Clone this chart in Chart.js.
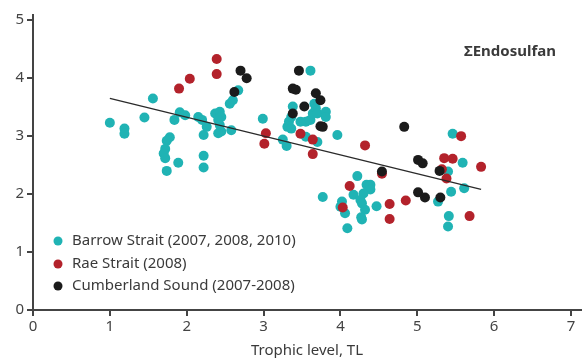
<!DOCTYPE html>
<html>
<head>
<meta charset="utf-8">
<script src="https://cdn.jsdelivr.net/npm/chart.js@4/dist/chart.umd.min.js"></script>
<style>
html,body{margin:0;padding:0;background:#fff;}
#wrap{width:586px;height:358px;position:relative;}
</style>
</head>
<body>
<div id="wrap"><canvas id="c" width="586" height="358"></canvas></div>
<script>
const chartTitle = "ΣEndosulfan";
const xAxisTitle = "Trophic level, TL";
const seriesNames = ["Barrow Strait (2007, 2008, 2010)", "Rae Strait (2008)", "Cumberland Sound (2007-2008)"];

const barrowTL = [1.00,1.19,1.19,1.45,1.56,1.84,1.91,1.98,1.78,1.74,1.72,1.70,1.72,1.89,1.74,2.15,2.20,2.26,2.22,2.22,2.22,2.37,2.43,2.45,2.41,2.43,2.45,2.41,2.58,2.56,2.60,2.67,2.99,3.25,3.30,3.31,3.33,3.36,3.36,3.38,3.48,3.55,3.61,3.64,3.66,3.68,3.70,3.81,3.81,3.61,3.55,3.70,3.96,4.22,3.77,4.34,4.39,4.39,4.17,4.30,4.26,4.28,4.32,4.47,4.28,4.27,4.02,4.00,4.06,4.09,5.40,5.46,5.59,5.44,5.61,5.27,5.41,5.40];
const barrowConc = [3.23,3.13,3.04,3.32,3.65,3.28,3.41,3.36,2.98,2.92,2.78,2.70,2.62,2.54,2.40,3.33,3.28,3.16,3.02,2.66,2.46,3.39,3.42,3.33,3.28,3.19,3.08,3.05,3.10,3.56,3.62,3.79,3.30,2.94,2.83,3.16,3.25,3.33,3.13,3.51,3.25,3.25,3.28,3.39,3.56,3.48,3.39,3.42,3.33,4.13,2.99,2.90,3.02,2.31,1.95,2.16,2.16,2.08,1.99,2.01,1.90,1.84,1.73,1.79,1.56,1.60,1.87,1.78,1.67,1.41,2.39,3.04,2.54,2.04,2.10,1.87,1.62,1.44];

const raeTL = [1.90,2.04,2.39,2.39,3.03,3.01,3.48,3.64,3.64,4.32,4.54,4.12,4.03,4.64,4.64,4.85,5.35,5.46,5.57,5.83,5.32,5.38,5.68];
const raeConc = [3.82,3.99,4.33,4.07,3.05,2.87,3.04,2.94,2.69,2.84,2.35,2.14,1.77,1.83,1.57,1.89,2.62,2.61,3.00,2.47,2.43,2.27,1.62];

const cumberlandTL = [2.70,2.78,2.62,3.46,3.38,3.42,3.68,3.74,3.53,3.38,3.74,3.77,4.83,5.01,5.07,4.54,5.29,5.01,5.10,5.30];
const cumberlandConc = [4.13,4.00,3.76,4.13,3.82,3.80,3.74,3.62,3.51,3.39,3.17,3.16,3.16,2.59,2.53,2.39,2.40,2.03,1.94,1.94];

const trendTL = [1.00, 5.83];
const trendConc = [3.65, 2.08];

const xTicks = [0,1,2,3,4,5,6,7];
const yTicks = [0,1,2,3,4,5];

const colors = ["#20b3b4", "#b3222b", "#1b1b1b"];

function pts(xs, ys){ return xs.map((x,i)=>({x:x, y:ys[i]})); }

const FONT = "'Noto Sans', 'Open Sans', sans-serif";
const TEXT = "#3a3a3a";

const overlay = {
  id: 'overlay',
  afterDraw(chart){
    const ctx = chart.ctx;
    ctx.save();
    ctx.fillStyle = TEXT;
    ctx.font = "bold 15px " + FONT;
    ctx.textAlign = "left";
    ctx.textBaseline = "middle";
    ctx.fillText(chartTitle, 464, 52);
    ctx.font = "15px " + FONT;
    const rows = [241, 264, 286];
    seriesNames.forEach((name, i) => {
      ctx.beginPath();
      ctx.fillStyle = colors[i];
      ctx.arc(58, rows[i], 4.5, 0, Math.PI*2);
      ctx.fill();
      ctx.fillStyle = TEXT;
      ctx.fillText(name, 72, rows[i]);
    });
    ctx.restore();
  }
};

new Chart(document.getElementById('c'), {
  type: 'scatter',
  data: {
    datasets: [
      {label: seriesNames[0], data: pts(barrowTL, barrowConc), backgroundColor: colors[0], borderWidth: 0, pointRadius: 5, order: 3},
      {label: seriesNames[1], data: pts(raeTL, raeConc), backgroundColor: colors[1], borderWidth: 0, pointRadius: 5, order: 2},
      {label: seriesNames[2], data: pts(cumberlandTL, cumberlandConc), backgroundColor: colors[2], borderWidth: 0, pointRadius: 5, order: 1},
      {label: 'trend', data: pts(trendTL, trendConc), showLine: true, pointRadius: 0, borderColor: "#2a2a2a", borderWidth: 1.3, fill: false, order: 0}
    ]
  },
  options: {
    responsive: false,
    animation: false,
    layout: {padding: {top: 15, right: 0, left: 0, bottom: 0}},
    plugins: {legend: {display: false}, tooltip: {enabled: false}},
    scales: {
      x: {
        type: 'linear', min: 0, max: 7.13,
        afterBuildTicks(s){ s.ticks = xTicks.map(v=>({value:v})); },
        afterFit(s){ s.height = 48; },
        ticks: {color: "#444", font: {size: 15, family: FONT}, padding: 2, autoSkip: false, maxRotation: 0},
        grid: {display: true, drawOnChartArea: false, drawTicks: true, tickLength: 6, color: "#444", lineWidth: 2},
        border: {display: true, color: "#444", width: 2},
        title: {display: true, text: xAxisTitle, color: TEXT, font: {size: 15, family: FONT}, padding: {top: 2, bottom: -2}}
      },
      y: {
        type: 'linear', min: 0, max: 5.09,
        afterBuildTicks(s){ s.ticks = yTicks.map(v=>({value:v})); },
        afterFit(s){ s.width = 33; },
        ticks: {color: "#444", font: {size: 15, family: FONT}, padding: 3},
        grid: {display: true, drawOnChartArea: false, drawTicks: true, tickLength: 6, color: "#444", lineWidth: 2},
        border: {display: true, color: "#444", width: 2}
      }
    }
  },
  plugins: [overlay]
});
</script>
</body>
</html>
